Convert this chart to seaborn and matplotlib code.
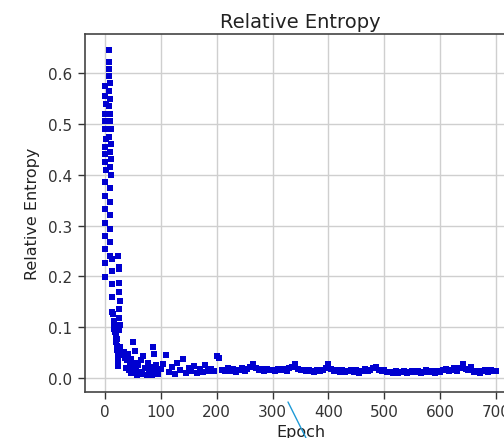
import matplotlib
matplotlib.use("Agg")
import matplotlib.pyplot as plt
import seaborn as sns
import pandas as pd
from matplotlib.lines import Line2D

# ---- data ----
early_epoch = [
    1, 0, 2, 0, 1, 0, 2, 0, 1, 0, 2, 0, 0, 0, 0, 0, 0, 0, 0,
    7, 7, 8, 8, 9, 7, 10, 8, 10, 9, 11, 8, 11, 9, 11, 10, 11, 10, 10, 10, 10, 10, 10,
    13, 13, 13, 13, 13,
    24, 25, 26, 26, 26, 27, 26, 26, 27, 26,
    15, 16, 18, 17, 19, 21, 22, 16, 20,
    23, 23, 24, 24, 24, 28, 30, 33, 35, 37, 40, 42, 45, 47, 50, 51, 54, 55, 57,
    60, 63, 65, 67, 69, 72, 75, 78, 80, 83, 85, 87, 88, 90, 92, 95, 97,
    38, 43, 48, 53, 58,
]
early_entropy = [
    0.575, 0.555, 0.540, 0.520, 0.505, 0.490, 0.470, 0.455, 0.440, 0.425, 0.410,
    0.385, 0.359, 0.333, 0.306, 0.279, 0.254, 0.226, 0.198,
    0.645, 0.622, 0.608, 0.594, 0.580, 0.565, 0.550, 0.535, 0.520, 0.505, 0.490,
    0.475, 0.460, 0.445, 0.430, 0.415, 0.400, 0.373, 0.346, 0.320, 0.293, 0.267, 0.241,
    0.234, 0.211, 0.185, 0.159, 0.129,
    0.240, 0.218, 0.215, 0.187, 0.169, 0.152, 0.136, 0.119, 0.105, 0.095,
    0.125, 0.112, 0.103, 0.097, 0.090, 0.083, 0.077, 0.100, 0.070,
    0.063, 0.055, 0.045, 0.033, 0.024, 0.060, 0.050, 0.045, 0.052, 0.040, 0.035,
    0.047, 0.028, 0.038, 0.020, 0.071, 0.054, 0.030, 0.015,
    0.025, 0.012, 0.035, 0.008, 0.044, 0.020, 0.005, 0.030, 0.012, 0.022, 0.006,
    0.061, 0.047, 0.015, 0.025, 0.008, 0.018,
    0.020, 0.015, 0.010, 0.018, 0.005,
]

tail_epoch = list(range(100, 701, 5))
tail_entropy = [
    0.018, 0.028, 0.045, 0.012, 0.022, 0.008, 0.030, 0.015, 0.037, 0.010,
    0.020, 0.013, 0.024, 0.009, 0.017, 0.012, 0.026, 0.014, 0.018, 0.013,
    0.044, 0.040, 0.016, 0.013, 0.019, 0.014, 0.017, 0.012, 0.016, 0.020,
    0.014, 0.018, 0.022, 0.028, 0.019, 0.016, 0.018, 0.014, 0.017, 0.015,
    0.016, 0.013, 0.018, 0.015, 0.017, 0.014, 0.019, 0.022, 0.027, 0.017,
    0.015, 0.016, 0.013, 0.015, 0.014, 0.012, 0.015, 0.013, 0.016, 0.020,
    0.027, 0.018, 0.014, 0.016, 0.012, 0.015, 0.011, 0.014, 0.016, 0.012,
    0.015, 0.010, 0.013, 0.018, 0.014, 0.016, 0.019, 0.022, 0.015, 0.013,
    0.016, 0.011, 0.012, 0.010, 0.013, 0.009, 0.011, 0.013, 0.010, 0.012,
    0.014, 0.011, 0.013, 0.009, 0.012, 0.015, 0.011, 0.013, 0.010, 0.014,
    0.012, 0.015, 0.017, 0.013, 0.016, 0.019, 0.014, 0.020, 0.027, 0.018,
    0.015, 0.021, 0.012, 0.014, 0.010, 0.013, 0.016, 0.012, 0.015, 0.014,
    0.013,
]

xticks = [0, 100, 200, 300, 400, 500, 600, 700]
yticks = [0.0, 0.1, 0.2, 0.3, 0.4, 0.5, 0.6]

df = pd.DataFrame({
    "Epoch": early_epoch + tail_epoch,
    "Relative Entropy": early_entropy + tail_entropy,
})

sns.set_style("ticks")
plt.rcParams["font.family"] = ["DejaVu Sans"]

fig = plt.figure(figsize=(5.04, 4.39), dpi=100)
ax = fig.add_axes([85 / 504, 46 / 439, 431 / 504, 358 / 439])

sns.scatterplot(data=df, x="Epoch", y="Relative Entropy", ax=ax,
                color="#0000d0", marker="s", s=16, linewidth=0, zorder=3)

ax.set_xticks(xticks)
ax.set_yticks(yticks)
ax.set_xticklabels([str(t) for t in xticks])
ax.set_yticklabels([f"{t:.1f}" for t in yticks])
ax.set_xlim(-35, 735)
ax.set_ylim(-0.0276, 0.677)
ax.grid(True, color="#cfcfcf", linewidth=1.0)
ax.set_axisbelow(True)
for sp in ax.spines.values():
    sp.set_color("#444444")
    sp.set_linewidth(1.2)
ax.tick_params(axis="both", labelsize=11, colors="#333333", length=5, width=1.0,
               direction="out", pad=4)
ax.set_xlabel("Epoch", fontsize=11.5, color="#222222", labelpad=3)
ax.set_ylabel("Relative Entropy", fontsize=11.5, color="#222222", labelpad=6)
ax.set_title("Relative Entropy", fontsize=14, color="#222222", pad=5)

# stray annotation stroke present in the reference picture
fig.add_artist(Line2D([288 / 504, 306 / 504], [1 - 403 / 439, 0.0],
                      transform=fig.transFigure, color="#1f9ad6", linewidth=1.0))

fig.savefig("out.png", dpi=100)
